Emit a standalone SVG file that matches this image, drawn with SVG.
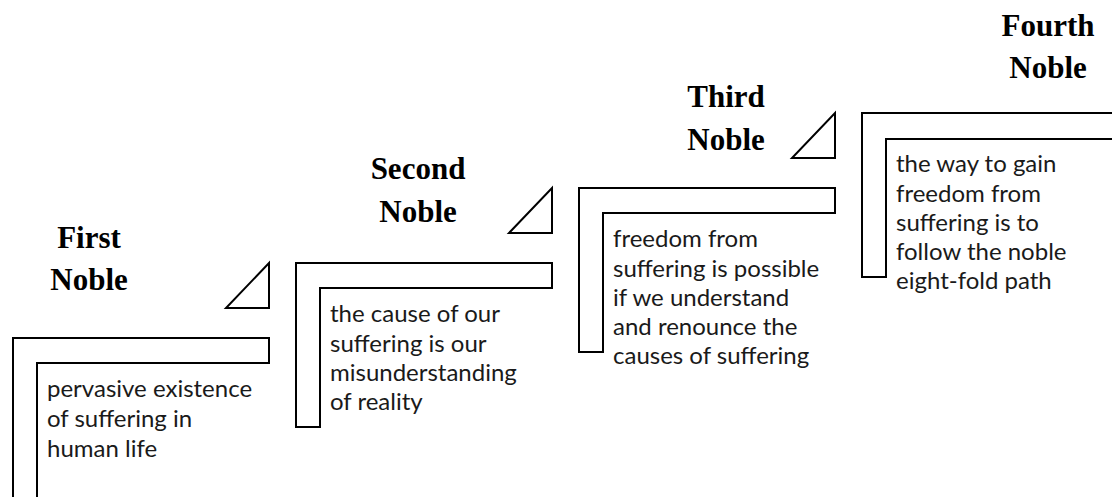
<svg xmlns="http://www.w3.org/2000/svg" width="1112" height="497" viewBox="0 0 1112 497">
  <style>
    .step { fill: #ffffff; stroke: #000000; stroke-width: 2; stroke-linejoin: miter; }
    .wedge { fill: #ffffff; stroke: #000000; stroke-width: 2; stroke-linejoin: miter; }
    .title { font-family: "Liberation Serif", "Times New Roman", serif; font-weight: bold; font-size: 31px; fill: #000000; text-anchor: middle; }
    .body { font-family: Lato, "Liberation Sans", sans-serif; font-size: 24px; fill: #1a1a1a; }
  </style>
  <rect width="1112" height="497" fill="#ffffff"/>

  <!-- stair treads with their wedges -->
  <g id="connectors">
    <polygon class="wedge" points="226,308 269,308 269,263"/>
    <polygon class="wedge" points="509,233 552,233 552,188"/>
    <polygon class="wedge" points="792,158 835,158 835,113"/>
  </g>

  <g id="first-noble">
    <path class="step" d="M13,338 H269 V363 H37 V505 H13 Z"/>
    <text class="title" x="89" y="248">First</text>
    <text class="title" x="89" y="290">Noble</text>
    <text class="body" x="47" y="397">pervasive existence</text>
    <text class="body" x="47" y="427">of suffering in</text>
    <text class="body" x="47" y="457">human life</text>
  </g>

  <g id="second-noble">
    <path class="step" d="M296,263 H552 V288 H320 V427 H296 Z"/>
    <text class="title" x="418" y="179">Second</text>
    <text class="title" x="418" y="222">Noble</text>
    <text class="body" x="330" y="322">the cause of our</text>
    <text class="body" x="330" y="352">suffering is our</text>
    <text class="body" x="330" y="381">misunderstanding</text>
    <text class="body" x="330" y="410">of reality</text>
  </g>

  <g id="third-noble">
    <path class="step" d="M579,188 H835 V213 H603 V352 H579 Z"/>
    <text class="title" x="726" y="107">Third</text>
    <text class="title" x="726" y="150">Noble</text>
    <text class="body" x="613" y="247">freedom from</text>
    <text class="body" x="613" y="277">suffering is possible</text>
    <text class="body" x="613" y="306">if we understand</text>
    <text class="body" x="613" y="335">and renounce the</text>
    <text class="body" x="613" y="364">causes of suffering</text>
  </g>

  <g id="fourth-noble">
    <path class="step" d="M862,113 H1120 V139 H886 V277 H862 Z"/>
    <text class="title" x="1048" y="36">Fourth</text>
    <text class="title" x="1048" y="78">Noble</text>
    <text class="body" x="896" y="172">the way to gain</text>
    <text class="body" x="896" y="202">freedom from</text>
    <text class="body" x="896" y="231">suffering is to</text>
    <text class="body" x="896" y="260">follow the noble</text>
    <text class="body" x="896" y="289">eight-fold path</text>
  </g>
</svg>
